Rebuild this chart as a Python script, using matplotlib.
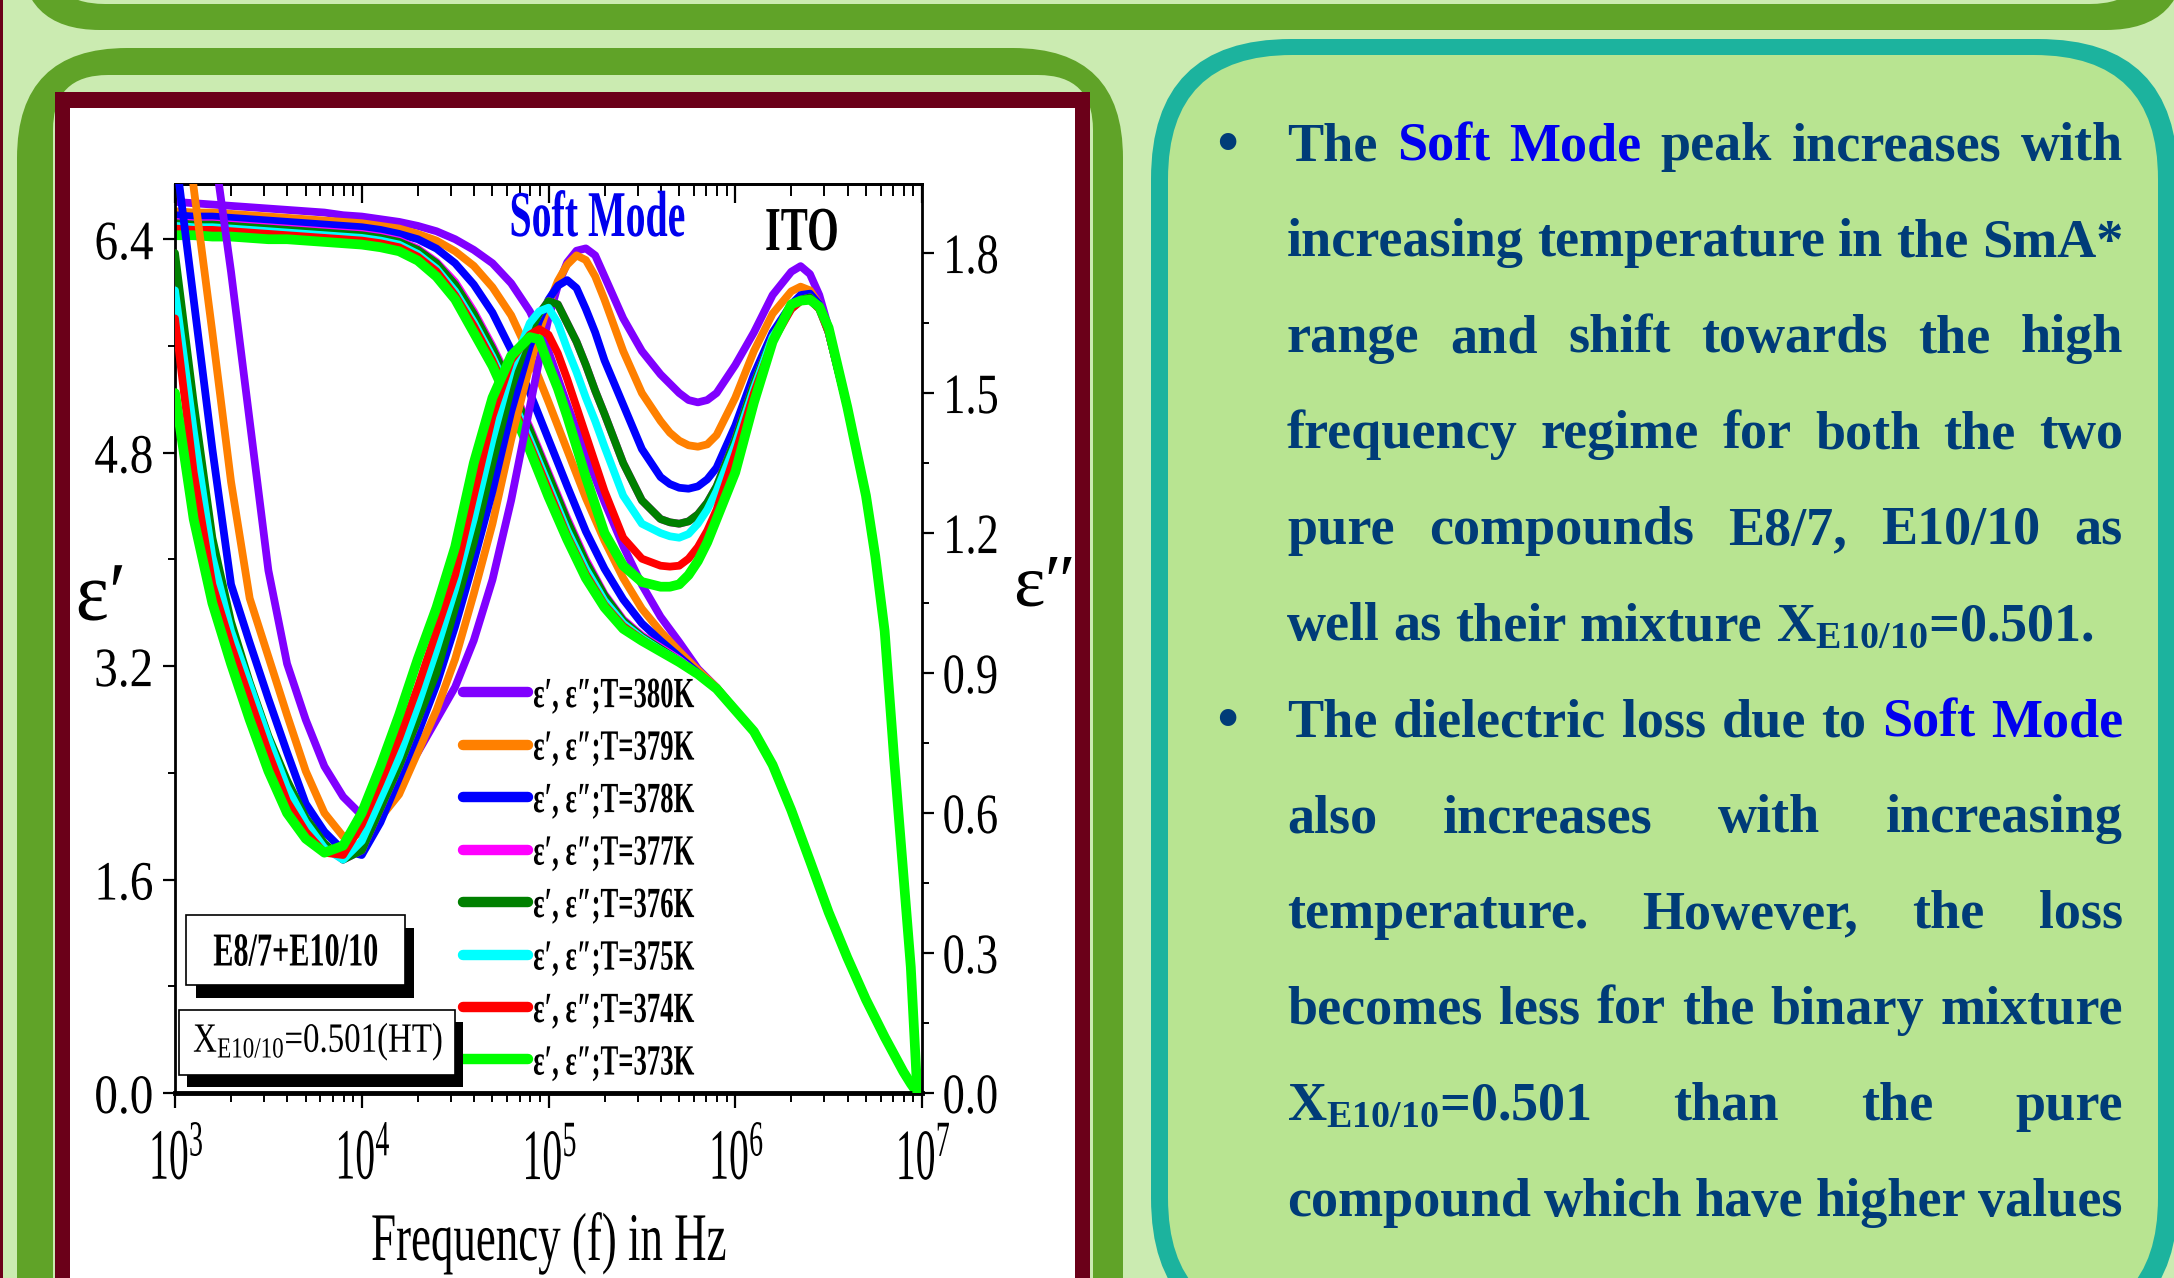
import numpy as np
import matplotlib
matplotlib.use("Agg")
import matplotlib.pyplot as plt
from matplotlib.lines import Line2D
from matplotlib.patches import FancyBboxPatch, Rectangle
from matplotlib.patheffects import AbstractPathEffect
from matplotlib.transforms import Affine2D
from matplotlib.ticker import FixedLocator, LogLocator, NullFormatter

W, H = 2174, 1278

plt.rcParams["font.family"] = ["Liberation Serif", "DejaVu Serif"]
plt.rcParams["mathtext.default"] = "regular"

# ---- values ----
TEMPS = ["380K", "379K", "378K", "377K", "376K", "375K", "374K", "373K"]
COLORS = ["#8000ff", "#ff8000", "#0000ff", "#ff00ff",
          "#008000", "#00ffff", "#ff0000", "#00ff00"]

# eps' (left axis) on its own log10(f) grid
LOG_F1 = [3.0, 3.1, 3.2, 3.3, 3.4, 3.5, 3.6, 3.7, 3.8, 3.9,
          4.0, 4.1, 4.2, 4.3, 4.4, 4.5, 4.6, 4.7, 4.8, 4.9,
          5.0, 5.1, 5.2, 5.3, 5.4, 5.5, 5.6, 5.7, 5.8, 5.9,
          6.0, 6.1, 6.2, 6.3, 6.4, 6.5, 6.6, 6.7, 6.8, 6.9,
          6.94, 6.975]
EPS1_HEAD = {  # 3.0 .. 5.9
    "380K": [6.68, 6.67, 6.66, 6.65, 6.64, 6.63, 6.62, 6.61, 6.60, 6.58,
             6.57, 6.55, 6.53, 6.50, 6.46, 6.40, 6.32, 6.22, 6.07, 5.86,
             5.56, 5.16, 4.79, 4.43, 4.10, 3.81, 3.57, 3.38, 3.18, 3.04],
    "379K": [6.61, 6.60, 6.60, 6.59, 6.58, 6.57, 6.56, 6.55, 6.54, 6.53,
             6.52, 6.50, 6.48, 6.44, 6.39, 6.31, 6.20, 6.04, 5.83, 5.53,
             5.18, 4.82, 4.46, 4.14, 3.86, 3.63, 3.46, 3.31, 3.17, 3.04],
    "378K": [6.58, 6.57, 6.57, 6.56, 6.55, 6.54, 6.53, 6.52, 6.51, 6.50,
             6.49, 6.47, 6.44, 6.40, 6.33, 6.22, 6.06, 5.85, 5.57, 5.25,
             4.90, 4.55, 4.21, 3.93, 3.70, 3.52, 3.39, 3.27, 3.15, 3.03],
    "377K": [6.53, 6.52, 6.52, 6.51, 6.50, 6.49, 6.48, 6.47, 6.46, 6.45,
             6.44, 6.42, 6.39, 6.33, 6.23, 6.08, 5.86, 5.60, 5.31, 4.99,
             4.65, 4.31, 4.00, 3.74, 3.55, 3.43, 3.34, 3.25, 3.14, 3.03],
    "376K": [6.52, 6.51, 6.51, 6.50, 6.49, 6.48, 6.47, 6.46, 6.45, 6.44,
             6.43, 6.41, 6.38, 6.32, 6.22, 6.06, 5.84, 5.58, 5.29, 4.97,
             4.63, 4.29, 3.98, 3.73, 3.54, 3.42, 3.33, 3.24, 3.14, 3.03],
    "375K": [6.50, 6.49, 6.49, 6.48, 6.47, 6.46, 6.45, 6.44, 6.43, 6.42,
             6.41, 6.39, 6.36, 6.29, 6.18, 6.01, 5.78, 5.52, 5.22, 4.90,
             4.56, 4.22, 3.93, 3.69, 3.52, 3.41, 3.32, 3.24, 3.14, 3.03],
    "374K": [6.48, 6.47, 6.47, 6.46, 6.45, 6.44, 6.43, 6.42, 6.41, 6.40,
             6.39, 6.37, 6.34, 6.27, 6.16, 5.98, 5.75, 5.49, 5.18, 4.86,
             4.52, 4.18, 3.89, 3.66, 3.50, 3.40, 3.31, 3.23, 3.14, 3.03],
    "373K": [6.43, 6.43, 6.42, 6.42, 6.41, 6.40, 6.40, 6.39, 6.38, 6.37,
             6.36, 6.34, 6.31, 6.24, 6.12, 5.95, 5.70, 5.45, 5.14, 4.82,
             4.47, 4.15, 3.86, 3.64, 3.48, 3.39, 3.31, 3.23, 3.14, 3.03],
}
EPS1_TAIL = [2.87, 2.71, 2.46, 2.12, 1.74, 1.355, 1.015, 0.70, 0.42, 0.16,
             0.07, 0.0]  # 6.0 .. 6.975, shared by all temperatures

# eps'' (right axis), finer around the peaks and the dip
LOG_F2 = [3.0, 3.1, 3.2, 3.3, 3.4, 3.5, 3.6, 3.7, 3.8, 3.9,
          4.0, 4.1, 4.2, 4.3, 4.4, 4.5, 4.6, 4.7, 4.8, 4.9,
          4.95, 5.0, 5.05, 5.1, 5.15, 5.2, 5.25, 5.3, 5.4, 5.5,
          5.6, 5.65, 5.7, 5.75, 5.8, 5.85, 5.9, 6.0, 6.1, 6.2,
          6.3, 6.35, 6.4, 6.45, 6.5,
          6.6, 6.7, 6.75, 6.8, 6.85, 6.9, 6.94, 6.975]
EPS2_HEAD = {  # 3.0 .. 6.5
    "380K": [3.20, 2.60, 2.05, 1.76, 1.44, 1.12, 0.92, 0.80, 0.70, 0.635,
             0.595, 0.625, 0.67, 0.73, 0.80, 0.87, 0.97, 1.10, 1.27, 1.47,
             1.57, 1.66, 1.73, 1.78, 1.805, 1.81, 1.795, 1.75, 1.66, 1.59,
             1.54, 1.52, 1.50, 1.485, 1.48, 1.485, 1.50, 1.56, 1.63, 1.71,
             1.76, 1.772, 1.755, 1.71, 1.64],
    "379K": [2.35, 1.94, 1.63, 1.31, 1.06, 0.935, 0.81, 0.69, 0.60, 0.55,
             0.555, 0.59, 0.64, 0.73, 0.82, 0.93, 1.07, 1.22, 1.40, 1.56,
             1.63, 1.69, 1.74, 1.775, 1.795, 1.785, 1.75, 1.70, 1.59, 1.50,
             1.44, 1.415, 1.398, 1.388, 1.385, 1.39, 1.41, 1.49, 1.59, 1.67,
             1.718, 1.728, 1.72, 1.69, 1.63],
    "378K": [2.02, 1.70, 1.38, 1.09, 0.965, 0.845, 0.73, 0.62, 0.56, 0.52,
             0.51, 0.58, 0.675, 0.77, 0.875, 1.00, 1.14, 1.29, 1.46, 1.60,
             1.655, 1.70, 1.73, 1.742, 1.725, 1.68, 1.63, 1.57, 1.475, 1.38,
             1.32, 1.305, 1.297, 1.295, 1.30, 1.315, 1.34, 1.43, 1.54, 1.63,
             1.69, 1.71, 1.713, 1.69, 1.63],
    "377K": [1.78, 1.46, 1.17, 1.00, 0.875, 0.76, 0.665, 0.585, 0.53, 0.50,
             0.52, 0.61, 0.70, 0.80, 0.91, 1.05, 1.19, 1.36, 1.52, 1.635,
             1.67, 1.697, 1.69, 1.65, 1.61, 1.56, 1.505, 1.455, 1.35, 1.27,
             1.23, 1.223, 1.22, 1.225, 1.24, 1.265, 1.30, 1.40, 1.52, 1.62,
             1.685, 1.70, 1.705, 1.685, 1.63],
    "376K": [1.80, 1.48, 1.19, 1.01, 0.88, 0.765, 0.67, 0.59, 0.535, 0.50,
             0.52, 0.61, 0.70, 0.80, 0.90, 1.04, 1.18, 1.35, 1.51, 1.63,
             1.67, 1.697, 1.69, 1.65, 1.61, 1.56, 1.505, 1.455, 1.35, 1.27,
             1.23, 1.223, 1.22, 1.225, 1.24, 1.265, 1.30, 1.40, 1.52, 1.62,
             1.685, 1.70, 1.705, 1.685, 1.63],
    "375K": [1.72, 1.42, 1.15, 0.99, 0.875, 0.76, 0.655, 0.58, 0.525, 0.50,
             0.54, 0.63, 0.72, 0.83, 0.95, 1.08, 1.23, 1.40, 1.55, 1.65,
             1.675, 1.683, 1.65, 1.595, 1.545, 1.49, 1.44, 1.385, 1.28, 1.22,
             1.20, 1.193, 1.19, 1.198, 1.22, 1.25, 1.29, 1.39, 1.51, 1.62,
             1.68, 1.698, 1.70, 1.68, 1.63],
    "374K": [1.66, 1.33, 1.09, 0.96, 0.845, 0.73, 0.625, 0.56, 0.515, 0.51,
             0.575, 0.665, 0.76, 0.87, 0.99, 1.11, 1.28, 1.45, 1.57, 1.625,
             1.637, 1.625, 1.585, 1.53, 1.47, 1.41, 1.35, 1.29, 1.19, 1.145,
             1.13, 1.128, 1.13, 1.145, 1.17, 1.205, 1.25, 1.37, 1.50, 1.61,
             1.68, 1.697, 1.70, 1.68, 1.63],
    "373K": [1.50, 1.23, 1.05, 0.92, 0.80, 0.69, 0.60, 0.545, 0.515, 0.53,
             0.60, 0.70, 0.81, 0.93, 1.04, 1.17, 1.35, 1.49, 1.58, 1.62,
             1.615, 1.56, 1.51, 1.45, 1.385, 1.32, 1.26, 1.20, 1.13, 1.095,
             1.085, 1.085, 1.09, 1.11, 1.14, 1.18, 1.23, 1.33, 1.48, 1.61,
             1.69, 1.698, 1.70, 1.685, 1.64],
}
EPS2_TAIL = [1.47, 1.28, 1.15, 0.99, 0.72, 0.47, 0.27, 0.0]  # 6.6 .. 6.975

DECADES = [1e3, 1e4, 1e5, 1e6, 1e7]
XTICK_LABELS = [r"$10^{3}$", r"$10^{4}$", r"$10^{5}$", r"$10^{6}$", r"$10^{7}$"]
EPS1_TICKS = [0.0, 1.6, 3.2, 4.8, 6.4]
EPS1_MINOR = [0.8, 2.4, 4.0, 5.6]
EPS2_TICKS = [0.0, 0.3, 0.6, 0.9, 1.2, 1.5, 1.8]
EPS2_MINOR = [0.15, 0.45, 0.75, 1.05, 1.35, 1.65]

PANEL_1 = ["The {Soft} {Mode} peak increases with",
           "increasing temperature in the SmA*",
           "range and shift towards the high",
           "frequency regime for both the two",
           "pure compounds E8/7, E10/10 as",
           "well as their mixture X$_{E10/10}$=0.501."]
PANEL_2 = ["The dielectric loss due to {Soft} {Mode}",
           "also increases with increasing",
           "temperature. However, the loss",
           "becomes less for the binary mixture",
           "X$_{E10/10}$=0.501 than the pure",
           "compound which have higher values"]

BG = "#cbebb1"
GREEN = "#60a328"
MAROON = "#6b0019"
TEAL = "#1cb39e"
PANEL = "#b8e491"
NAVY = "#003c78"
SOFT_BLUE = "#0000ee"


class Squeeze(AbstractPathEffect):
    """Draw text glyphs narrowed horizontally (the poster font is condensed)."""

    def __init__(self, sx, anchor="center"):
        super().__init__()
        self.sx, self.anchor = sx, anchor

    def draw_path(self, renderer, gc, tpath, affine, rgbFace=None):
        ext = tpath.get_extents()
        if self.anchor == "left":
            cx = ext.x0
        elif self.anchor == "right":
            cx = ext.x1
        else:
            cx = (ext.x0 + ext.x1) / 2
        tr = Affine2D().translate(-cx, 0).scale(self.sx, 1).translate(cx, 0) + affine
        renderer.draw_path(gc, tpath, tr, rgbFace)


def px_axes(a):
    a.set_xlim(0, W)
    a.set_ylim(H, 0)
    a.axis("off")


def rbox(a, x0, y0, x1, y1, r, color):
    a.add_patch(FancyBboxPatch((x0, y0), x1 - x0, y1 - y0,
                               boxstyle=f"round,pad=0,rounding_size={r}",
                               fc=color, ec="none"))


fig = plt.figure(figsize=(W / 100, H / 100), dpi=100, facecolor=BG)

# ---- poster background ----
bg = fig.add_axes([0, 0, 1, 1])
px_axes(bg)
bg.add_patch(Rectangle((0, 0), 2.5, H, fc=MAROON, ec="none"))
rbox(bg, 20, -300, 2186, 30, 80, GREEN)
rbox(bg, 45, -300, 2150, 4, 60, BG)
rbox(bg, 17, 48, 1123, 1600, 110, GREEN)
rbox(bg, 53, 75, 1093, 1600, 55, BG)
bg.add_patch(Rectangle((55, 92), 1035, 1500, fc=MAROON, ec="none"))
bg.add_patch(Rectangle((70, 108), 1005, 1500, fc="white", ec="none"))
rbox(bg, 1151, 39, 2178, 1338, 140, TEAL)
rbox(bg, 1168, 55, 2158, 1322, 124, PANEL)

# ---- the dielectric spectrum ----
f1 = np.power(10.0, LOG_F1)
f2 = np.power(10.0, LOG_F2)
ax = fig.add_axes([175 / W, 1 - 1093 / H, 747 / W, 909 / H])
ax.set_facecolor("white")
ax2 = ax.twinx()

for T, c in zip(TEMPS, COLORS):
    lw = 7.0 if T == "373K" else 5.6
    ax.plot(f1, EPS1_HEAD[T] + EPS1_TAIL, color=c, lw=lw,
            solid_capstyle="round", solid_joinstyle="round")
    ax2.plot(f2, EPS2_HEAD[T] + EPS2_TAIL, color=c, lw=lw,
             solid_capstyle="round", solid_joinstyle="round")

ax.set_xscale("log")
ax.set_xlim(1e3, 1e7)
ax.set_ylim(0, 6.814)
ax2.set_ylim(0, 1.948)

ax.set_xticks(DECADES, XTICK_LABELS)
ax.xaxis.set_minor_locator(LogLocator(base=10, subs=np.arange(2, 10), numticks=50))
ax.xaxis.set_minor_formatter(NullFormatter())
ax.set_yticks(EPS1_TICKS, [f"{v:.1f}" for v in EPS1_TICKS])
ax.yaxis.set_minor_locator(FixedLocator(EPS1_MINOR))
ax2.set_yticks(EPS2_TICKS, [f"{v:.1f}" for v in EPS2_TICKS])
ax2.yaxis.set_minor_locator(FixedLocator(EPS2_MINOR))

ax.tick_params(axis="x", which="major", direction="out", length=11, width=1.6,
               pad=15, labelsize=52, top=False)
ax.tick_params(axis="x", which="minor", direction="out", length=6.5, width=1.4, top=False)
ax.tick_params(axis="y", which="major", direction="out", length=8.5, width=1.6,
               pad=7, labelsize=40, right=False)
ax.tick_params(axis="y", which="minor", direction="out", length=5, width=1.4, right=False)
ax2.tick_params(axis="y", which="major", direction="out", length=8.5, width=1.6,
                pad=6, labelsize=41)
ax2.tick_params(axis="y", which="minor", direction="out", length=5, width=1.4)

top = ax.secondary_xaxis("top")
top.xaxis.set_minor_locator(LogLocator(base=10, subs=np.arange(2, 10), numticks=50))
top.tick_params(axis="x", which="major", direction="in", length=14, width=1.6, labeltop=False)
top.tick_params(axis="x", which="minor", direction="in", length=8.5, width=1.4, labeltop=False)
top.spines["top"].set_linewidth(2)

for s in ["left", "top"]:
    ax.spines[s].set_linewidth(2)
ax.spines["bottom"].set_linewidth(3.5)
ax.spines["right"].set_visible(False)
for s in ["left", "top", "bottom"]:
    ax2.spines[s].set_visible(False)
ax2.spines["right"].set_linewidth(2)

for lbl in ax.get_xticklabels():
    lbl.set_path_effects([Squeeze(0.55, "center")])
for lbl in ax.get_yticklabels():
    lbl.set_path_effects([Squeeze(0.85, "right")])
for lbl in ax2.get_yticklabels():
    lbl.set_path_effects([Squeeze(0.78, "left")])

ax.set_xlabel("Frequency (f) in Hz", fontsize=49, va="baseline")
ax.xaxis.set_label_coords(0.5, -(1260 - 1093) / 909)
ax.xaxis.label.set_path_effects([Squeeze(0.66)])
ax.set_ylabel("ε′", fontsize=60, rotation=0, ha="center", va="center")
ax.yaxis.set_label_coords((101 - 175) / 747, (1093 - 600) / 909)
ax.yaxis.label.set_path_effects([Squeeze(0.95)])
ax2.set_ylabel("ε″", fontsize=54, rotation=0, ha="left", va="center")
ax2.yaxis.set_label_coords((1013 - 175) / 747, (1093 - 588) / 909)

handles = [Line2D([], [], color=c, lw=7.5, solid_capstyle="round") for c in COLORS]
labels = [f"ε′, ε″;T={T}" for T in TEMPS]
leg = ax2.legend(handles, labels, loc="upper left",
                 bbox_to_anchor=(463 / W, 1 - 677 / H), bbox_transform=fig.transFigure,
                 frameon=False, prop={"weight": "bold", "size": 31},
                 handlelength=1.5, handletextpad=0.12, labelspacing=0.31,
                 borderpad=0, borderaxespad=0)
for t in leg.get_texts():
    t.set_path_effects([Squeeze(0.62, "left")])

# ---- overlay: annotations, sample boxes and the text panel ----
ov = fig.add_axes([0, 0, 1, 1], zorder=5)
px_axes(ov)

ov.text(597, 236, "Soft Mode", color=SOFT_BLUE, fontsize=47, fontweight="bold",
        ha="center", va="baseline", path_effects=[Squeeze(0.61)])
ov.text(802, 250, "ITO", color="black", fontsize=45, fontweight="bold",
        ha="center", va="baseline", path_effects=[Squeeze(0.65)])

ov.add_patch(Rectangle((196, 928), 218, 70, fc="black", ec="none"))
ov.add_patch(Rectangle((186, 915), 219, 70, fc="white", ec="black", lw=1.2))
ov.text(296, 965.5, "E8/7+E10/10", fontsize=34, fontweight="bold",
        ha="center", va="baseline", path_effects=[Squeeze(0.64)])
ov.add_patch(Rectangle((187, 1022), 276, 65, fc="black", ec="none"))
ov.add_patch(Rectangle((179, 1010), 276, 65, fc="white", ec="black", lw=1.2))
ov.text(318, 1052, "X$_{E10/10}$=0.501(HT)", fontsize=30,
        ha="center", va="baseline", path_effects=[Squeeze(0.79)])

X0, X1 = 1287, 2123
BASE0, PITCH = 160.4, 95.95
PANEL_SIZE = 39
renderer = fig.canvas.get_renderer()


def panel_line(text, baseline, justify):
    arts = []
    for word in text.split():
        blue = word.startswith("{")
        word = word.strip("{}")
        arts.append(ov.text(0, baseline, word, color=SOFT_BLUE if blue else NAVY,
                            fontsize=PANEL_SIZE, fontweight="bold",
                            ha="left", va="baseline"))
    widths = [a.get_window_extent(renderer).width for a in arts]
    gap = (X1 - X0 - sum(widths)) / (len(arts) - 1) if justify else 13.5
    x = X0
    for a, w in zip(arts, widths):
        a.set_x(x)
        x += w + gap


row = 0
for para, last_justified in [(PANEL_1, False), (PANEL_2, True)]:
    ov.text(1227, BASE0 + row * PITCH + 5, "•", color=NAVY, fontsize=50,
            ha="center", va="baseline")
    for i, line in enumerate(para):
        justify = last_justified or i < len(para) - 1
        panel_line(line, BASE0 + row * PITCH, justify)
        row += 1

fig.savefig("out.png", dpi=100, facecolor=BG)
